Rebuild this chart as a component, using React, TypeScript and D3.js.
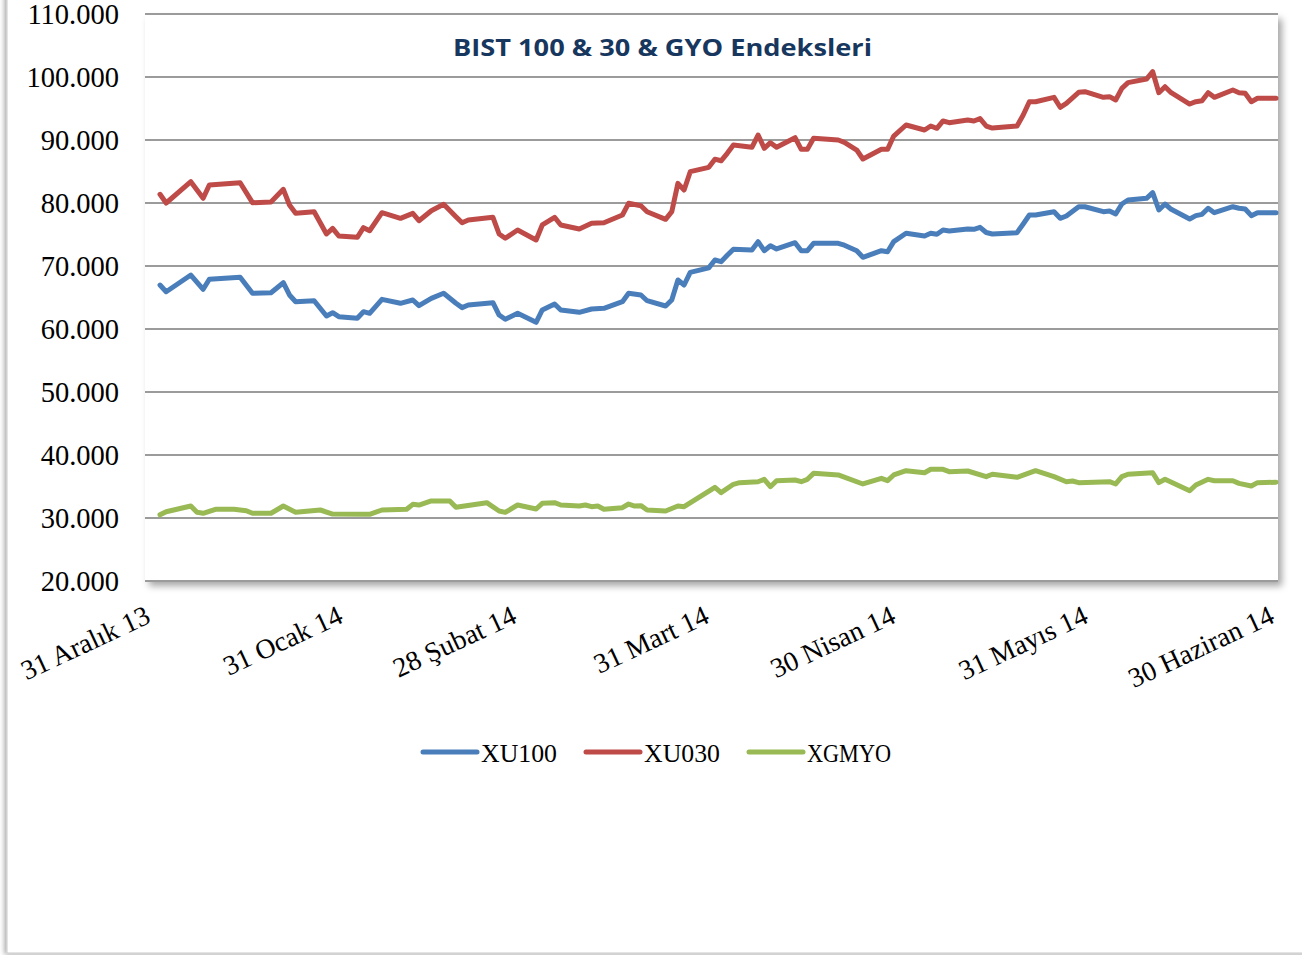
import React from "react";
import * as d3 from "d3";

const TITLE = "BIST 100 & 30 & GYO Endeksleri";
const seriesNames = ["XU100", "XU030", "XGMYO"];
const seriesColors = ["#4A7EBB", "#BE4B48", "#98B954"];
const yTickValues = [20000, 30000, 40000, 50000, 60000, 70000, 80000, 90000, 100000, 110000];
const xTickDates = ["2013-12-31", "2014-01-31", "2014-02-28", "2014-03-31", "2014-04-30", "2014-05-31", "2014-06-30"];
const xTickLabels = ["31 Aralık 13", "31 Ocak 14", "28 Şubat 14", "31 Mart 14", "30 Nisan 14", "31 Mayıs 14", "30 Haziran 14"];

const xuDates = [
  "2013-12-31", "2014-01-01", "2014-01-05", "2014-01-07", "2014-01-08", "2014-01-13", "2014-01-15", "2014-01-18", "2014-01-20", "2014-01-21",
  "2014-01-22", "2014-01-25", "2014-01-27", "2014-01-28", "2014-01-29", "2014-02-01", "2014-02-02", "2014-02-03", "2014-02-05", "2014-02-08",
  "2014-02-10", "2014-02-11", "2014-02-13", "2014-02-15", "2014-02-17", "2014-02-18", "2014-02-19", "2014-02-23", "2014-02-24", "2014-02-25",
  "2014-02-27", "2014-03-02", "2014-03-03", "2014-03-05", "2014-03-06", "2014-03-09", "2014-03-11", "2014-03-13", "2014-03-16", "2014-03-17",
  "2014-03-19", "2014-03-20", "2014-03-23", "2014-03-24", "2014-03-25", "2014-03-26", "2014-03-27", "2014-03-30", "2014-03-31", "2014-04-01",
  "2014-04-02", "2014-04-03", "2014-04-06", "2014-04-07", "2014-04-08", "2014-04-09", "2014-04-10", "2014-04-13", "2014-04-14", "2014-04-15",
  "2014-04-16", "2014-04-20", "2014-04-21", "2014-04-23", "2014-04-24", "2014-04-27", "2014-04-28", "2014-04-29", "2014-05-01", "2014-05-04",
  "2014-05-05", "2014-05-06", "2014-05-07", "2014-05-08", "2014-05-11", "2014-05-12", "2014-05-13", "2014-05-14", "2014-05-15", "2014-05-19",
  "2014-05-20", "2014-05-21", "2014-05-22", "2014-05-25", "2014-05-26", "2014-05-27", "2014-05-29", "2014-05-30", "2014-06-02", "2014-06-03",
  "2014-06-04", "2014-06-05", "2014-06-06", "2014-06-09", "2014-06-10", "2014-06-11", "2014-06-12", "2014-06-13", "2014-06-16", "2014-06-17",
  "2014-06-18", "2014-06-19", "2014-06-20", "2014-06-23", "2014-06-24", "2014-06-25", "2014-06-26", "2014-06-27", "2014-06-30",
];

const xu100 = [
  66980, 65920, 68570, 66300, 67890, 68210, 65670, 65760, 67350, 65400,
  64330, 64490, 62060, 62590, 61950, 61700, 62750, 62490, 64710, 64080,
  64600, 63700, 64870, 65670, 64080, 63390, 63810, 64180, 62220, 61540,
  62490, 61060, 63020, 63970, 63020, 62650, 63180, 63280, 64330, 65670,
  65400, 64490, 63650, 64600, 67780, 66980, 68990, 69700, 70950, 70690,
  71700, 72650, 72540, 73860, 72430, 73220, 72700, 73700, 72430, 72430,
  73600, 73600, 73300, 72430, 71380, 72430, 72270, 73860, 75190, 74760,
  75190, 75030, 75710, 75560, 75870, 75820, 76140, 75320, 75080, 75290,
  76670, 78100, 78100, 78620, 77570, 77940, 79410, 79410, 78620, 78730,
  78250, 79840, 80480, 80740, 81640, 78890, 79840, 79000, 77460, 77990,
  78200, 79160, 78460, 79410, 79160, 79050, 77990, 78460, 78460,
];

const xu030 = [
  81380, 80000, 83380, 80750, 82860, 83220, 80050, 80160, 82170, 79680,
  78360, 78620, 75080, 75980, 74760, 74550, 76080, 75600, 78460, 77570,
  78360, 77190, 78780, 79790, 77830, 76870, 77300, 77730, 75080, 74400,
  75710, 74130, 76510, 77730, 76510, 75870, 76780, 76870, 78100, 79950,
  79570, 78620, 77410, 78620, 83120, 82060, 84970, 85660, 86960, 86700,
  87890, 89210, 88840, 90790, 88680, 89570, 88840, 90370, 88520, 88520,
  90270, 90000, 89630, 88410, 86980, 88520, 88520, 90630, 92380, 91590,
  92220, 91860, 93020, 92750, 93170, 93020, 93400, 92220, 91900, 92220,
  93970, 96080, 96080, 96770, 95190, 95820, 97570, 97670, 96770, 96880,
  96350, 98200, 99100, 99680, 100840, 97510, 98460, 97510, 95710, 96080,
  96240, 97510, 96770, 97940, 97510, 97410, 96080, 96620, 96620,
];

const xgmyoDates = [
  "2013-12-31", "2014-01-01", "2014-01-05", "2014-01-06", "2014-01-07", "2014-01-09", "2014-01-12", "2014-01-14", "2014-01-15", "2014-01-18",
  "2014-01-20", "2014-01-22", "2014-01-26", "2014-01-28", "2014-02-02", "2014-02-03", "2014-02-05", "2014-02-09", "2014-02-10", "2014-02-11",
  "2014-02-13", "2014-02-16", "2014-02-17", "2014-02-22", "2014-02-24", "2014-02-25", "2014-02-27", "2014-03-02", "2014-03-03", "2014-03-05",
  "2014-03-06", "2014-03-09", "2014-03-10", "2014-03-11", "2014-03-12", "2014-03-13", "2014-03-16", "2014-03-17", "2014-03-18", "2014-03-19",
  "2014-03-20", "2014-03-23", "2014-03-25", "2014-03-26", "2014-03-31", "2014-04-01", "2014-04-03", "2014-04-04", "2014-04-07", "2014-04-08",
  "2014-04-09", "2014-04-10", "2014-04-13", "2014-04-14", "2014-04-15", "2014-04-16", "2014-04-20", "2014-04-24", "2014-04-27", "2014-04-28",
  "2014-04-29", "2014-05-01", "2014-05-04", "2014-05-05", "2014-05-07", "2014-05-08", "2014-05-11", "2014-05-14", "2014-05-15", "2014-05-19",
  "2014-05-22", "2014-05-25", "2014-05-27", "2014-05-28", "2014-05-29", "2014-06-03", "2014-06-04", "2014-06-05", "2014-06-06", "2014-06-10",
  "2014-06-11", "2014-06-12", "2014-06-16", "2014-06-17", "2014-06-19", "2014-06-20", "2014-06-23", "2014-06-24", "2014-06-26", "2014-06-27",
  "2014-06-30",
];

const xgmyo = [
  30500, 31000, 31900, 30900, 30750, 31380, 31380, 31160, 30750, 30750,
  31900, 30900, 31270, 30630, 30590, 30590, 31270, 31380, 32170, 32060,
  32700, 32700, 31700, 32430, 31110, 30900, 32060, 31430, 32330, 32430,
  32060, 31900, 32060, 31800, 31900, 31380, 31640, 32220, 31900, 31960,
  31270, 31110, 31900, 31800, 34870, 34020, 35350, 35610, 35760, 36140,
  34970, 35920, 36030, 35760, 36140, 37090, 36830, 35400, 36300, 35920,
  36830, 37510, 37190, 37730, 37730, 37350, 37460, 36560, 36940, 36460,
  37510, 36560, 35760, 35870, 35610, 35760, 35400, 36560, 36940, 37190,
  35610, 36140, 34330, 35240, 36140, 35920, 35920, 35500, 35080, 35610,
  35670,
];

const legendTextWidths = [76, 76, 84];

const parse = d3.utcParse("%Y-%m-%d");
const trLocale = d3.formatLocale({ decimal: ",", thousands: ".", grouping: [3], currency: ["", " TL"] });
const fmt = trLocale.format(",.0f");

export default function App() {
  const W = 1302;
  const H = 955;
  const plot = { left: 145, right: 1278, top: 14, bottom: 581 };
  const x = d3
    .scaleUtc()
    .domain([parse("2013-12-31") as Date, parse("2014-06-30") as Date])
    .range([160, 1276]);
  const y = d3.scaleLinear().domain([20000, 110000]).range([plot.bottom, plot.top]);
  const line = d3
    .line<[Date, number]>()
    .x((d) => x(d[0]))
    .y((d) => y(d[1]));

  const zip = (dates: string[], vals: number[]) =>
    dates.slice(0, Math.min(dates.length, vals.length)).map((d, i) => [parse(d) as Date, vals[i]] as [Date, number]);

  const series = [
    { name: seriesNames[0], color: seriesColors[0], pts: zip(xuDates, xu100) },
    { name: seriesNames[1], color: seriesColors[1], pts: zip(xuDates, xu030) },
    { name: seriesNames[2], color: seriesColors[2], pts: zip(xgmyoDates, xgmyo) },
  ];

  const serif = "'Liberation Serif', 'DejaVu Serif', serif";
  const legendX = [422, 585, 748];
  const legendY = 752;

  return (
    <svg
      width={W}
      height={H}
      viewBox={`0 0 ${W} ${H}`}
      style={{ position: "absolute", left: 0, top: 0, background: "#fff" }}
    >
      <defs>
        <filter id="plotShadow" x="-5%" y="-5%" width="115%" height="115%">
          <feDropShadow dx="4" dy="5" stdDeviation="3.5" floodColor="#000" floodOpacity="0.35" />
        </filter>
        <filter id="frameShadow" x="-5%" y="-5%" width="110%" height="110%">
          <feDropShadow dx="-2" dy="1" stdDeviation="2.5" floodColor="#000" floodOpacity="0.35" />
        </filter>
      </defs>

      {/* chart frame */}
      <rect x={7} y={-20} width={1400} height={973} fill="#fff" stroke="#C9C9C9" strokeWidth={1} filter="url(#frameShadow)" />

      {/* plot area */}
      <rect
        x={plot.left}
        y={plot.top}
        width={plot.right - plot.left}
        height={plot.bottom - plot.top}
        fill="#fff"
        filter="url(#plotShadow)"
      />

      {/* gridlines */}
      {yTickValues.map((v) => (
        <line
          key={v}
          x1={plot.left}
          x2={plot.right}
          y1={y(v)}
          y2={y(v)}
          stroke="#9B9B9B"
          strokeWidth={1.8}
        />
      ))}

      {/* y labels */}
      {yTickValues.map((v) => (
        <text
          key={"yl" + v}
          x={119}
          y={y(v)}
          dy="0.34em"
          textAnchor="end"
          fontFamily={serif}
          fontSize={28.5}
          fill="#000"
        >
          {fmt(v)}
        </text>
      ))}

      {/* x labels */}
      {xTickDates.map((d, i) => {
        const tick = x(parse(d) as Date);
        const tx = tick - 8 + (8 * (tick - 160)) / 1116;
        const ty = 622;
        return (
          <text
            key={d}
            x={tx}
            y={ty}
            transform={`rotate(-25 ${tx} ${ty})`}
            textAnchor="end"
            fontFamily={serif}
            fontSize={27.7}
            fill="#000"
          >
            {xTickLabels[i]}
          </text>
        );
      })}

      {/* series */}
      {series.map((s) => (
        <path
          key={s.name}
          d={line(s.pts) || ""}
          fill="none"
          stroke={s.color}
          strokeWidth={5}
          strokeLinejoin="round"
          strokeLinecap="round"
        />
      ))}

      {/* title */}
      <text
        x={662.5}
        y={56}
        textAnchor="middle"
        fontFamily="'Open Sans', 'Noto Sans', sans-serif"
        fontWeight={700}
        fontSize={24}
        fill="#17375E"
        textLength={419}
        lengthAdjust="spacingAndGlyphs"
      >
        {TITLE}
      </text>

      {/* legend */}
      {series.map((s, i) => (
        <g key={"lg" + s.name}>
          <line
            x1={legendX[i] + 1}
            x2={legendX[i] + 55}
            y1={legendY}
            y2={legendY}
            stroke={s.color}
            strokeWidth={5}
            strokeLinecap="round"
          />
          <text
            x={legendX[i] + 59}
            y={legendY + 9.5}
            fontFamily={serif}
            fontSize={26}
            fill="#000"
            textLength={legendTextWidths[i]}
            lengthAdjust="spacingAndGlyphs"
          >
            {s.name}
          </text>
        </g>
      ))}
    </svg>
  );
}
